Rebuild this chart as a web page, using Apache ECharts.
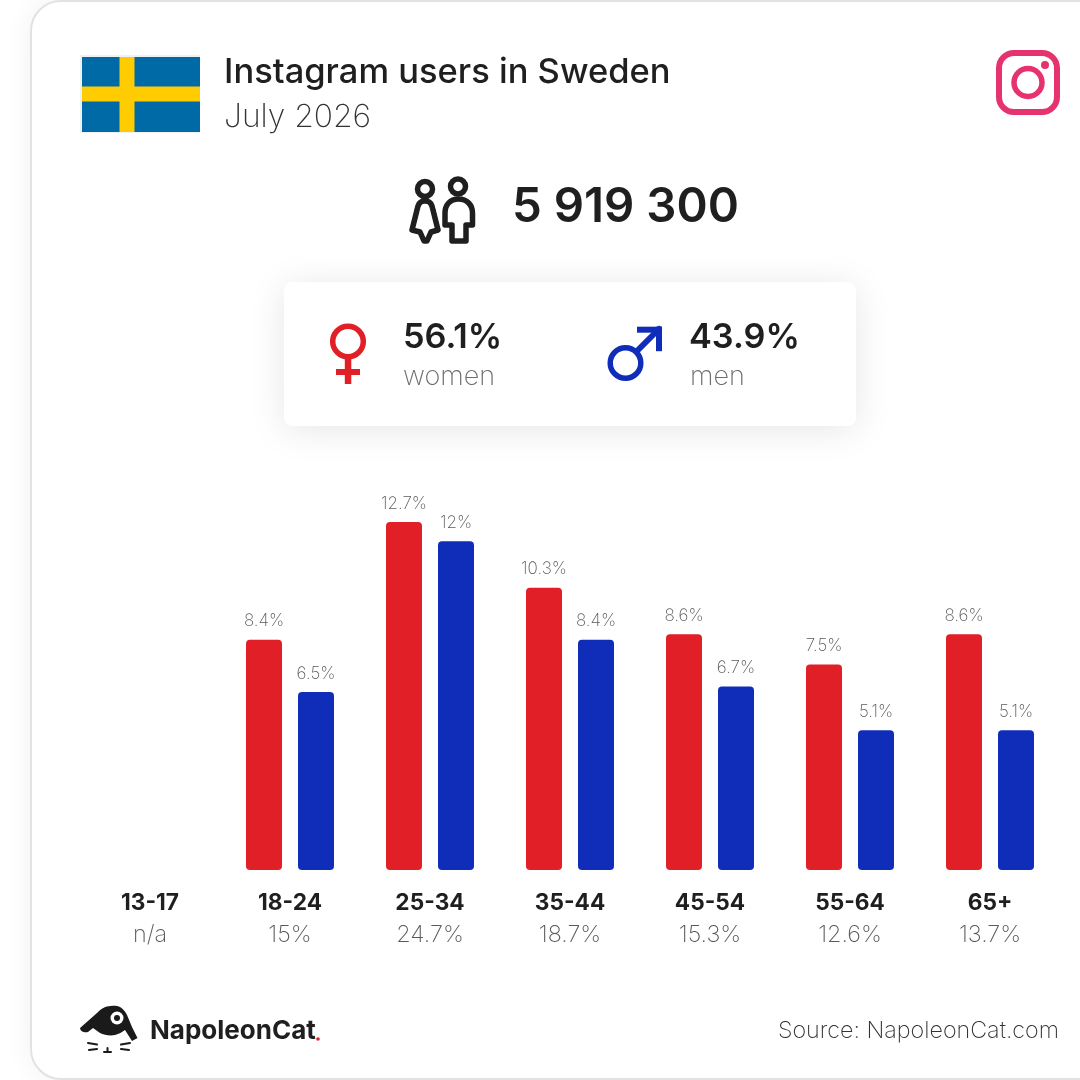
<!DOCTYPE html>
<html><head><meta charset="utf-8">
<style>html,body{margin:0;padding:0;background:#fff}#c{width:1080px;height:1080px}</style>
<script src="https://cdn.jsdelivr.net/npm/echarts@6/dist/echarts.min.js"></script>
</head><body><div id="c"></div>
<script>
const ageGroups = ['13-17','18-24','25-34','35-44','45-54','55-64','65+'];
const groupTotals = ['n/a','15%','24.7%','18.7%','15.3%','12.6%','13.7%'];
const women = [null,8.4,12.7,10.3,8.6,7.5,8.6];
const men = [null,6.5,12,8.4,6.7,5.1,5.1];
const FONT = 'Inter';
const DARK = '#1f1f1f', GREY = '#6e6e6e', RED = '#e01f26', BLUE = '#102db9', PINK = '#e6326d';

const txt = (x,y,text,size,weight,fill,align) => ({type:'text',z:5,style:{x,y,text,fontFamily:FONT,fontSize:size,fontWeight:weight,fill,textAlign:align||'left',textVerticalAlign:'middle'}});
const rect = (x,y,w,h,fill,r) => ({type:'rect',z:3,shape:{x,y,width:w,height:h,r:r||0},style:{fill}});
const ring = (cx,cy,r,lw,stroke) => ({type:'circle',z:3,shape:{cx,cy,r},style:{fill:'none',stroke,lineWidth:lw}});
let pathCount = 0;
const pathEl = (d,style) => {
  const name = 'iconPath' + (pathCount++);
  echarts.graphic.registerShape(name, echarts.graphic.extendPath(d,{}));
  return {type:name,z:3,style};
};
const strokePath = (d,stroke,lw) => pathEl(d,{fill:'none',stroke,lineWidth:lw,lineJoin:'round',lineCap:'round'});
const fillPath = (d,fill) => pathEl(d,{fill});

const decorations = [
  {type:'rect',z:0,shape:{x:31,y:1,width:1300,height:1078,r:30},style:{fill:'#fff',stroke:'#e2e2e2',lineWidth:2,shadowBlur:30,shadowColor:'rgba(0,0,0,0.06)'}},
  // flag
  rect(80,55,120,78,'#eef0f1'),
  rect(82,57,118,75,'#006aa7'),
  rect(119.5,57,15,75,'#fecc00'),
  rect(82,86.5,118,15,'#fecc00'),
  txt(224,73,'Instagram users in Sweden',34.5,500,DARK),
  txt(224,117,'July 2026',31.8,200,'#333'),
  // instagram icon
  {type:'rect',z:3,shape:{x:999,y:53,width:58,height:59,r:15},style:{fill:'none',stroke:PINK,lineWidth:6}},
  ring(1028,82.5,14,5.5,PINK),
  {type:'circle',z:3,shape:{cx:1045,cy:65,r:4},style:{fill:PINK}},
  // people icon
  ring(425,189,7.5,5.5,DARK),
  ring(458,186.5,7.5,5.5,DARK),
  strokePath('M425 201C419 201 418 205 417 210L412 230L420 232L424 241H427L431 232L438 230L433 210C432 205 431 201 425 201Z',DARK,5.5),
  strokePath('M458.5 199C450 199 445 205 445 213V225H452V241H466V225H472.5V213C472.5 205 467 199 458.5 199Z',DARK,5.5),
  txt(512,208,'5 919 300',47.4,600,DARK),
  // gender card
  {type:'rect',z:1,shape:{x:284,y:282,width:572,height:144,r:8},style:{fill:'#fff',shadowBlur:36,shadowColor:'rgba(0,0,0,0.10)',shadowOffsetY:4}},
  ring(348,341.5,15.3,5.5,RED),
  rect(344.8,358,6.5,26,RED),
  rect(336,369,24,6,RED),
  ring(625.5,363,15.3,5.5,BLUE),
  strokePath('M637 351L659 329',BLUE,6),
  rect(637,326.7,25,6,BLUE),
  rect(656,326.7,6,24.5,BLUE),
  txt(403,338,'56.1%',34.3,600,DARK),
  txt(403,377,'women',27,200,GREY),
  txt(689,338,'43.9%',34.3,600,DARK),
  txt(690,377,'men',27,200,GREY),
  // logo
  fillPath('M80 1028L97 1013C101 1009 104 1007 107 1006.5C111 1005.5 114 1005.5 117 1006C122 1007 125 1011 127 1015L132 1027L137.5 1038L132 1041L125 1030C122 1032 119 1034 115 1035C110 1036 104 1035 100 1033L93 1028L88 1032C85 1033 80.5 1032 80 1028Z','#1a1a1a'),
  {type:'circle',z:4,shape:{cx:117,cy:1018,r:6.5},style:{fill:'#fff'}},
  {type:'circle',z:4,shape:{cx:117,cy:1018,r:3},style:{fill:'#1a1a1a'}},
  strokePath('M88 1043L97 1044.5M89 1050L97 1049M130 1043L121 1044.5M129 1050L121 1049M104 1052H111M107.5 1052V1048','#1a1a1a',2),
  txt(150,1031,'NapoleonCat',26,700,'#1f1f1f'),
  {type:'circle',z:4,shape:{cx:318,cy:1039,r:1.8},style:{fill:'#e8202c'}},
  txt(1059,1031,'Source: NapoleonCat.com',23.3,200,'#333','right')
];

const barLabel = {show:true,position:'top',distance:10,fontFamily:FONT,fontSize:17,fontWeight:200,color:'#5a5a5a',formatter:p=>p.value+'%'};
const mkSeries = (name,data,color) => ({name,type:'bar',data,barWidth:36,barGap:'44.44%',itemStyle:{color,borderRadius:4},label:barLabel,emphasis:{disabled:true}});

const chart = echarts.init(document.getElementById('c'),null,{renderer:'canvas'});
chart.setOption({
  animation:false,
  backgroundColor:'#fff',
  grid:{left:80,top:486.4,width:980,height:383.6},
  xAxis:{type:'category',data:ageGroups,axisLine:{show:false},axisTick:{show:false},
    axisLabel:{interval:0,margin:17,formatter:(v,i)=>`{a|${v}}\n{b|${groupTotals[i]}}`,
      rich:{a:{fontFamily:FONT,fontSize:22.7,fontWeight:700,color:DARK,lineHeight:32},
            b:{fontFamily:FONT,fontSize:23.4,fontWeight:200,color:'#5a5a5a',lineHeight:32}}}},
  yAxis:{type:'value',min:0,max:14,show:false},
  series:[mkSeries('women',women,RED),mkSeries('men',men,BLUE)],
  graphic:{elements:decorations}
});
</script></body></html>
